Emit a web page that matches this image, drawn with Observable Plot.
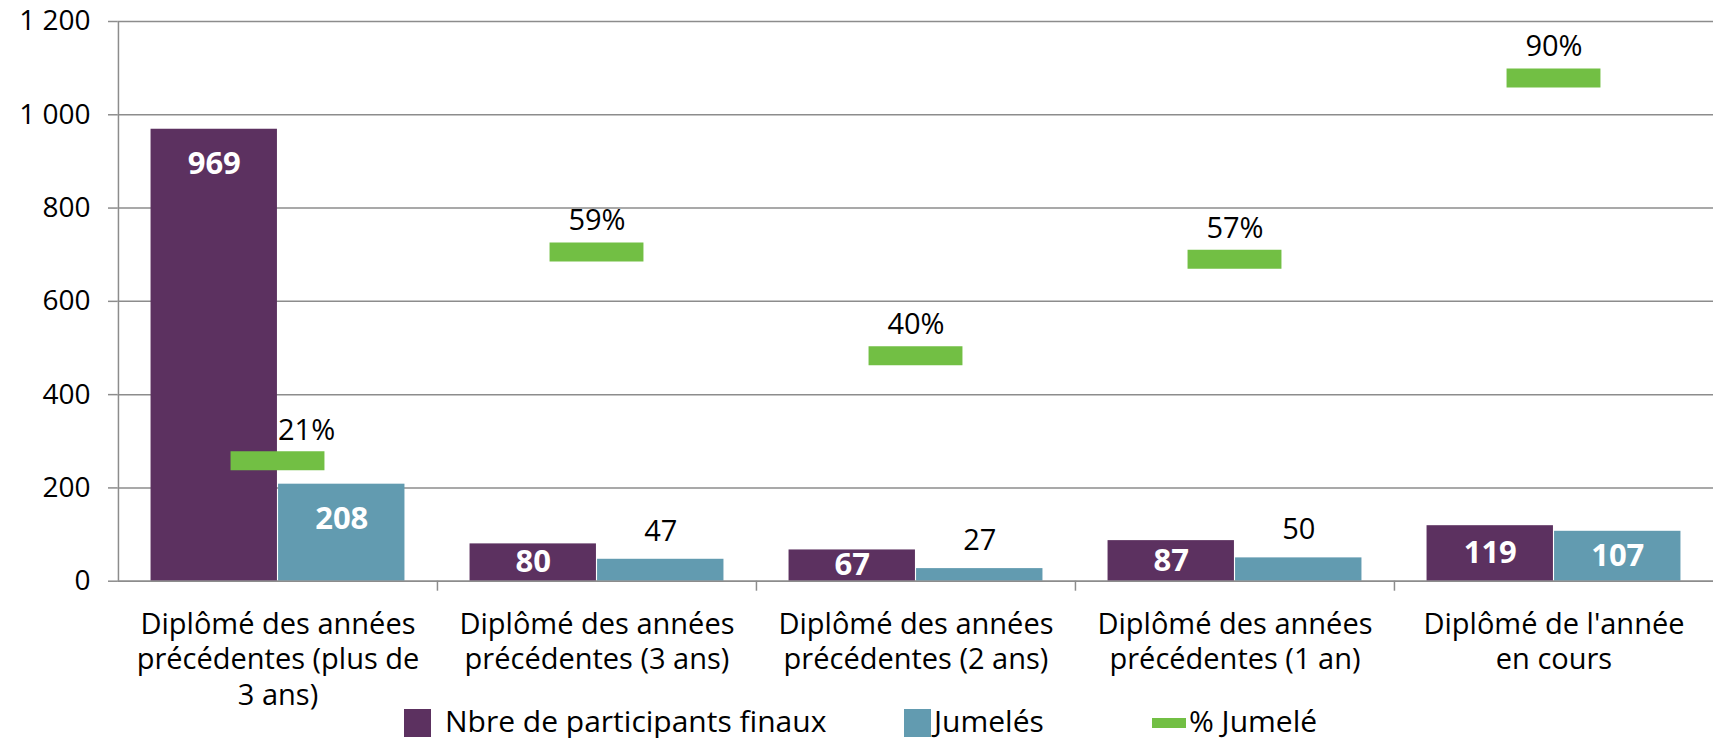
<!DOCTYPE html>
<html><head><meta charset="utf-8">
<script src="https://cdn.jsdelivr.net/npm/d3@7"></script>
<script src="https://cdn.jsdelivr.net/npm/@observablehq/plot@0.6"></script>
<style>
body{margin:0;background:#fff;font-family:"Open Sans",sans-serif;position:relative;width:1713px;height:738px;overflow:hidden;}
#chart svg{display:block;}
#legend{position:absolute;left:0;top:0;width:1713px;height:738px;pointer-events:none;}
.sw{position:absolute;}
.lt{position:absolute;font-size:30px;line-height:normal;color:#000;white-space:nowrap;}
</style></head><body>
<div id="chart"></div><div id="legend"></div>
<script>
const categories = ["Plus de 3 ans", "3 ans", "2 ans", "1 an", "Année en cours"];
const categoryLabels = [
  "Diplômé des années\nprécédentes (plus de\n3 ans)",
  "Diplômé des années\nprécédentes (3 ans)",
  "Diplômé des années\nprécédentes (2 ans)",
  "Diplômé des années\nprécédentes (1 an)",
  "Diplômé de l'année\nen cours"
];
const participants = [969, 80, 67, 87, 119];
const jumeles = [208, 47, 27, 50, 107];
const pctJumele = [21.5, 58.8, 40.3, 57.5, 89.9];
const pctLabels = ["21%", "59%", "40%", "57%", "90%"];
const yTicks = [0, 200, 400, 600, 800, 1000, 1200];
const seriesNames = ["Nbre de participants finaux", "Jumelés", "% Jumelé"];
const seriesColors = ["#5c3160", "#629bb0", "#72bf44"];

const W = 1713, H = 738, mL = 117.5, mT = 21, mR = 0, mB = H - 580.7;
const yMax = 1200;
const ppu = (H - mB - mT) / yMax;             // pixels per unit
const bw = (W - mL - mR) / categories.length; // band width
const pad = bw * 0.102, barW = bw * 0.3996;
const markerW = 94;
const grid = "#8c8c8c";
const font = "Open Sans";

const rows = categories.map((c, i) => ({
  cat: c, label: categoryLabels[i], p: participants[i], j: jumeles[i],
  pct: pctJumele[i], pctLabel: pctLabels[i], i
}));
const pctY = d => d.pct * yMax / 100;
const insideY = v => Math.max(v - 35 / ppu, v / 2);

const chart = Plot.plot({
  width: W, height: H,
  marginLeft: mL, marginTop: mT, marginRight: mR, marginBottom: mB,
  style: {fontFamily: font, background: "#fff", color: "#000"},
  x: {type: "band", domain: categories, padding: 0, axis: null},
  y: {domain: [0, yMax], axis: null},
  marks: [
    Plot.gridY(yTicks, {stroke: grid, strokeOpacity: 1, strokeWidth: 1.5}),
    Plot.axisY(yTicks, {
      tickSize: 9.5, tickPadding: 18, fontSize: 28, stroke: grid, strokeWidth: 1.5,
      fill: "#000", label: null,
      tickFormat: d => d3.format(",")(d).replace(/,/g, " ")
    }),
    Plot.barY(rows, {x: "cat", y: "p", fill: seriesColors[0], insetLeft: pad, insetRight: pad + barW}),
    Plot.barY(rows, {x: "cat", y: "j", fill: seriesColors[1], insetLeft: pad + barW, insetRight: pad}),
    Plot.ruleY([0], {stroke: grid, strokeWidth: 1.5}),
    Plot.ruleX(rows, {x: "cat", dx: -bw / 2, y1: 0, y2: d => d.i === 0 ? yMax : -10 / ppu, stroke: grid, strokeWidth: 1.5}),
    Plot.tickY(rows, {x: "cat", y: pctY, stroke: seriesColors[2], strokeWidth: 19,
      insetLeft: (bw - markerW) / 2, insetRight: (bw - markerW) / 2}),
    // labels inside bars
    Plot.text(rows, {x: "cat", y: d => insideY(d.p), text: d => String(d.p), dx: -barW / 2,
      fill: "#fff", fontWeight: "bold", fontSize: 31}),
    Plot.text(rows.filter(d => d.j > 100), {x: "cat", y: d => insideY(d.j), text: d => String(d.j), dx: barW / 2,
      fill: "#fff", fontWeight: "bold", fontSize: 31}),
    Plot.text(rows.filter(d => d.j <= 100), {x: "cat", y: "j", text: d => String(d.j), dx: barW / 2, dy: -28,
      fill: "#000", fontSize: 29}),
    // percentage labels
    Plot.text(rows.filter(d => pctY(d) >= d.p), {x: "cat", y: pctY, text: "pctLabel", dy: -31,
      fill: "#000", fontSize: 29}),
    Plot.text(rows.filter(d => pctY(d) < d.p), {x: "cat", y: pctY, text: "pctLabel", dy: -30,
      textAnchor: "start", fill: "#000", fontSize: 29}),
    // category labels
    Plot.text(rows, {x: "cat", y: 0, text: "label", dy: 27.5, lineAnchor: "top", lineHeight: 1.22,
      fill: "#000", fontSize: 29})
  ]
});
document.getElementById("chart").appendChild(chart);

const legend = document.getElementById("legend");
const swatchLeft = [404, 904, 1152];
const swatchW = [27, 27, 34];
const swatchH = [28, 28, 10];
const textLeft = [445, 934, 1189];
seriesNames.forEach((name, i) => {
  const sw = document.createElement("div");
  sw.className = "sw";
  sw.style.background = seriesColors[i];
  sw.style.left = swatchLeft[i] + "px";
  sw.style.width = swatchW[i] + "px";
  sw.style.height = swatchH[i] + "px";
  sw.style.top = (722.5 - swatchH[i] / 2) + "px";
  legend.appendChild(sw);
  const t = document.createElement("div");
  t.className = "lt";
  t.textContent = name;
  t.style.left = textLeft[i] + "px";
  t.style.top = "699.7px";
  legend.appendChild(t);
});
</script>
</body></html>
